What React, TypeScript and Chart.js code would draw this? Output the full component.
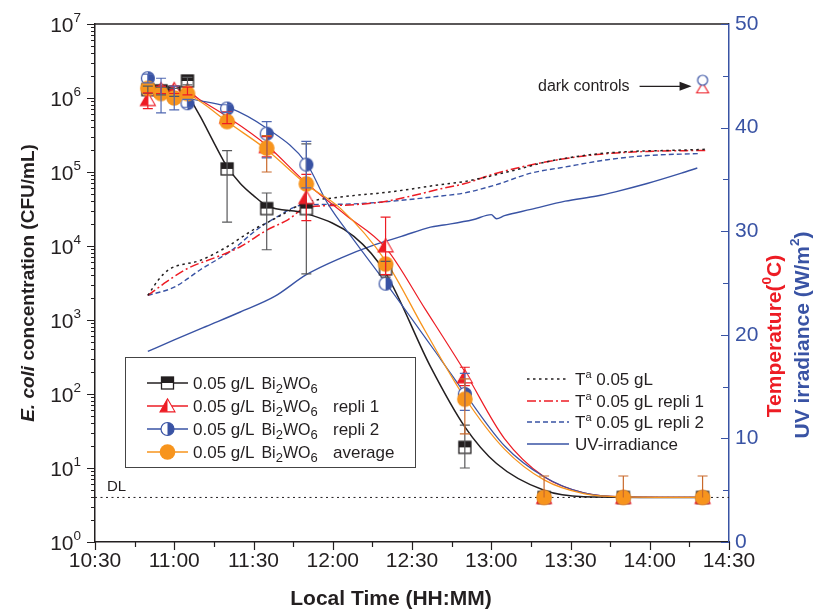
import React, { useEffect, useRef } from 'react';
import { Chart, registerables } from 'chart.js';

Chart.register(...registerables);

const FONT = '"Liberation Sans", Arial, Helvetica, sans-serif';
const BLACK = '#231F20';
const RED = '#ED1C24';
const BLUE = '#3953A4';
const ORANGE = '#F7941D';
const ORANGE_BAR = '#C9692B';
const GRAY_BAR = '#58595B';
const BLUE_BAR = '#5068B2';

// ---------- axes ----------
const xTickLabels = ['10:30', '11:00', '11:30', '12:00', '12:30', '13:00', '13:30', '14:00', '14:30'];
const xMinorStep = 15;
const logExponents = [0, 1, 2, 3, 4, 5, 6, 7];
const rightTicks = [0, 10, 20, 30, 40, 50];
const rightMinorStep = 5;
const xTitle = 'Local Time (HH:MM)';

// ---------- E. coli samples (CFU/mL) ----------
const sampleTimes = ['10:50', '10:55', '11:00', '11:05', '11:20', '11:35', '11:50', '12:20', '12:50', '13:20', '13:50', '14:20'];

const bwMean = [1.3e6, 1.25e6, 1.2e6, 1.7e6, 1.1e5, 3.2e4, 3.2e4, 4.9e3, 19, 4, 4, 4];
const bwLow = [1.15e6, 1.1e6, 1.05e6, 1.5e6, 2.1e4, 8.9e3, 4.2e3, 3.8e3, 10, 4, 4, 4];
const bwHigh = [1.45e6, 1.4e6, 1.35e6, 1.9e6, 1.95e5, 5.2e4, 2.4e5, 6.2e3, 38, 4, 4, 4];

const r1Mean = [9.5e5, 1.3e6, 1.3e6, 1.25e6, 5.5e5, 2.2e5, 4.5e4, 1.0e4, 170, 4, 4, 4];
const r1Low = [7.2e5, 1.15e6, 1.15e6, 1.1e6, 4.5e5, 1.6e5, 2.2e4, 4.1e3, 130, 4, 4, 4];
const r1High = [1.17e6, 1.45e6, 1.45e6, 1.4e6, 6.5e5, 3.0e5, 9.3e4, 2.45e4, 230, 4, 4, 4];

const r2Mean = [1.85e6, 1.2e6, 1.0e6, 8.5e5, 7.2e5, 3.3e5, 1.26e5, 3.1e3, 100, 4, 4, 4];
const r2Low = [1.6e6, 6.3e5, 6.9e5, 7.5e5, 6.4e5, 1.55e5, 6.1e4, 3.1e3, 60, 4, 4, 4];
const r2High = [2.1e6, 1.85e6, 1.45e6, 9.6e5, 8.1e5, 4.8e5, 2.6e5, 3.1e3, 190, 4, 4, 4];

const avgMean = [1.35e6, 1.15e6, 1.0e6, 1.15e6, 4.8e5, 2.1e5, 6.9e4, 5.7e3, 85, 4, 4, 4];
const avgLow = [1.35e6, 1.15e6, 1.0e6, 1.15e6, 4.8e5, 1.0e5, 6.9e4, 5.7e3, 29, 4, 4, 4];
const avgHigh = [1.35e6, 1.15e6, 1.0e6, 1.15e6, 4.8e5, 3.1e5, 6.9e4, 5.7e3, 160, 7.8, 7.8, 7.8];

// dark controls
const darkTime = '14:20';
const darkRepli2 = 1.74e6;
const darkRepli1 = 1.35e6;

// detection limit
const dlValue = 4;

// ---------- fitted curves (time, CFU/mL) ----------
const bwFit: [string, number][] = [
  ['10:50', 1.3e6], ['11:00', 1.28e6], ['11:05', 1.15e6], ['11:07', 8.5e5], ['11:10', 5.5e5],
  ['11:15', 2.5e5], ['11:20', 1.18e5], ['11:25', 7.0e4], ['11:30', 4.8e4], ['11:35', 3.5e4],
  ['11:50', 2.75e4], ['12:08', 1.35e4], ['12:20', 4.3e3], ['12:37', 234], ['12:50', 36],
  ['13:02', 11.5], ['13:20', 5.0], ['13:35', 4.1], ['14:20', 4.0],
];
const r1Fit: [string, number][] = [
  ['10:50', 1.2e6], ['11:05', 1.2e6], ['11:10', 9.3e5], ['11:20', 5.6e5], ['11:35', 2.3e5],
  ['11:50', 7.1e4], ['12:05', 2.6e4], ['12:20', 9.5e3], ['12:35', 1.4e3], ['12:50', 200],
  ['13:05', 25], ['13:20', 7.6], ['13:35', 4.6], ['13:50', 4.07], ['14:20', 4.0],
];
const avgFit: [string, number][] = [
  ['10:50', 1.35e6], ['11:00', 1.17e6], ['11:05', 1.12e6], ['11:10', 8.9e5], ['11:20', 4.8e5],
  ['11:35', 2.0e5], ['11:50', 6.8e4], ['12:03', 3.2e4], ['12:20', 6.3e3], ['12:35', 710],
  ['12:50', 89], ['13:05', 18], ['13:20', 6.9], ['13:35', 4.5], ['13:50', 4.07], ['14:20', 4.0],
];
const r2Fit: [string, number][] = [
  ['10:50', 1.58e6], ['11:05', 1.0e6], ['11:20', 7.6e5], ['11:35', 3.9e5], ['11:50', 1.32e5],
  ['11:58', 3.8e4], ['12:08', 1.2e4], ['12:20', 3.2e3], ['12:41', 290], ['12:50', 102],
  ['13:05', 20], ['13:20', 7.6], ['13:35', 4.6], ['13:50', 4.07], ['14:20', 4.0],
];

// ---------- temperature (°C) and UV (W/m2) ----------
const tempMain: [string, number][] = [
  ['10:50', 23.8], ['10:54', 25.3], ['10:58', 26.3], ['11:10', 27.2], ['11:20', 28.5], ['11:26', 29.5],
  ['11:31', 30.3], ['11:35', 30.8], ['11:43', 31.9], ['11:49', 32.7], ['12:03', 33.3], ['12:22', 33.8],
  ['12:41', 34.5], ['12:50', 34.8], ['13:09', 35.9], ['13:21', 36.7], ['13:38', 37.4], ['13:53', 37.7],
  ['14:08', 37.8], ['14:21', 37.9],
];
const tempRepli1: [string, number][] = [
  ['10:50', 23.8], ['10:57', 25.1], ['11:05', 26.4], ['11:16', 27.5], ['11:25', 28.5], ['11:35', 30.1],
  ['11:43', 31.1], ['11:50', 32.3], ['12:03', 32.5], ['12:18', 32.8], ['12:28', 33.3], ['12:41', 34.1],
  ['12:50', 34.6], ['13:02', 35.6], ['13:21', 36.7], ['13:40', 37.4], ['13:59', 37.7], ['14:21', 37.8],
];
const tempRepli2: [string, number][] = [
  ['10:50', 23.8], ['11:00', 24.6], ['11:10', 26.3], ['11:22', 28.2], ['11:31', 30.1], ['11:39', 31.4],
  ['11:48', 32.5], ['12:03', 32.6], ['12:18', 32.8], ['12:41', 33.4], ['12:50', 33.7], ['13:02', 34.5],
  ['13:15', 35.6], ['13:28', 36.2], ['13:44', 36.9], ['13:59', 37.3], ['14:19', 37.5],
];
const uvIrradiance: [string, number][] = [
  ['10:50', 18.4], ['11:00', 19.5], ['11:12', 20.8], ['11:25', 22.2], ['11:38', 23.7], ['11:50', 25.8],
  ['12:03', 27.4], ['12:16', 28.7], ['12:26', 29.5], ['12:37', 30.4], ['12:42', 30.6], ['12:53', 31.1],
  ['13:00', 31.6], ['13:02', 31.2], ['13:05', 31.5], ['13:15', 32.1], ['13:28', 32.9], ['13:40', 33.4],
  ['13:47', 33.8], ['13:59', 34.6], ['14:12', 35.6], ['14:18', 36.1],
];

// ---------- legend texts ----------
const leftLegendMain = ['0.05 g/L', '0.05 g/L', '0.05 g/L', '0.05 g/L'];
const leftLegendSuffix = ['', 'repli 1', 'repli 2', 'average'];
const rightLegendText = [' 0.05 gL', ' 0.05 gL repli 1', ' 0.05 gL repli 2', 'UV-irradiance'];

// ---------- helpers ----------
const toMin = (t: string) => {
  const [h, m] = t.split(':').map(Number);
  return h * 60 + m - (10 * 60 + 30);
};

type Seg = { t: string; size: number; weight?: string; style?: string; dy?: number; color?: string };
const segFont = (s: Seg) => `${s.style || 'normal'} ${s.weight || 'normal'} ${s.size}px ${FONT}`;
function richWidth(ctx: CanvasRenderingContext2D, segs: Seg[]) {
  let w = 0;
  for (const s of segs) { ctx.font = segFont(s); w += ctx.measureText(s.t).width; }
  return w;
}
function drawRich(ctx: CanvasRenderingContext2D, segs: Seg[], x: number, y: number, color: string) {
  ctx.textAlign = 'left';
  ctx.textBaseline = 'alphabetic';
  let cx = x;
  for (const s of segs) {
    ctx.font = segFont(s);
    ctx.fillStyle = s.color || color;
    ctx.fillText(s.t, cx, y + (s.dy || 0));
    cx += ctx.measureText(s.t).width;
  }
  return cx;
}

function drawMarker(ctx: CanvasRenderingContext2D, kind: string, cx: number, cy: number) {
  ctx.save();
  ctx.setLineDash([]);
  if (kind === 'square') {
    const s = 12, h = 6;
    ctx.fillStyle = '#fff'; ctx.fillRect(cx - h, cy - h, s, s);
    ctx.fillStyle = BLACK; ctx.fillRect(cx - h, cy - h, s, h);
    ctx.strokeStyle = BLACK; ctx.lineWidth = 1.3; ctx.strokeRect(cx - h, cy - h, s, s);
  } else if (kind === 'triangle' || kind === 'openTriangle') {
    const w = kind === 'triangle' ? 15 : 12;
    const ht = kind === 'triangle' ? 13 : 10;
    const top = cy - ht * 0.55, bot = cy + ht * 0.45;
    const path = () => { ctx.beginPath(); ctx.moveTo(cx, top); ctx.lineTo(cx + w / 2, bot); ctx.lineTo(cx - w / 2, bot); ctx.closePath(); };
    path(); ctx.fillStyle = '#fff'; ctx.fill();
    if (kind === 'triangle') {
      ctx.save(); ctx.beginPath(); ctx.rect(cx - w, top - 2, w, ht + 4); ctx.clip();
      path(); ctx.fillStyle = RED; ctx.fill(); ctx.restore();
    }
    path(); ctx.strokeStyle = RED; ctx.lineWidth = 1.1; ctx.stroke();
  } else if (kind === 'circleHalf' || kind === 'openCircle') {
    const r = kind === 'circleHalf' ? 6.5 : 5;
    ctx.beginPath(); ctx.arc(cx, cy, r, 0, Math.PI * 2); ctx.fillStyle = '#fff'; ctx.fill();
    if (kind === 'circleHalf') {
      ctx.beginPath(); ctx.arc(cx, cy, r, -Math.PI / 2, Math.PI / 2); ctx.closePath(); ctx.fillStyle = BLUE; ctx.fill();
    }
    ctx.beginPath(); ctx.arc(cx, cy, r, 0, Math.PI * 2); ctx.strokeStyle = BLUE; ctx.lineWidth = 1.2; ctx.stroke();
  } else if (kind === 'orange') {
    ctx.beginPath(); ctx.arc(cx, cy, 7.8, 0, Math.PI * 2); ctx.fillStyle = ORANGE; ctx.fill();
  }
  ctx.restore();
}

function makeMarker(kind: string): HTMLCanvasElement {
  const c = document.createElement('canvas');
  c.width = 20; c.height = 20;
  const ctx = c.getContext('2d')!;
  drawMarker(ctx, kind, 10, 10);
  return c;
}

const errorSeries = [
  { mean: bwMean, low: bwLow, high: bwHigh, color: GRAY_BAR },
  { mean: r1Mean, low: r1Low, high: r1High, color: RED },
  { mean: r2Mean, low: r2Low, high: r2High, color: BLUE_BAR },
  { mean: avgMean, low: avgLow, high: avgHigh, color: ORANGE_BAR },
];

const DASH_MAIN = [2.5, 3.5];
const DASH_R1 = [9, 3, 2, 3];
const DASH_R2 = [5, 3];

const chemSegs = (): Seg[] => [
  { t: 'Bi', size: 16 }, { t: '2', size: 13, dy: 4 }, { t: 'WO', size: 16 }, { t: '6', size: 13, dy: 4 },
];

const decorPlugin = {
  id: 'decor',
  beforeDatasetsDraw(chart: any) {
    const { ctx, chartArea: a, scales } = chart;
    const yDL = scales.y.getPixelForValue(dlValue);
    ctx.save();
    ctx.strokeStyle = BLACK; ctx.lineWidth = 1; ctx.setLineDash([2, 3.5]);
    ctx.beginPath(); ctx.moveTo(a.left, yDL); ctx.lineTo(a.right, yDL); ctx.stroke();
    ctx.setLineDash([]);
    drawRich(ctx, [{ t: 'DL', size: 15 }], a.left + 12, yDL - 6, BLACK);
    ctx.restore();
  },
  afterDatasetsDraw(chart: any) {
    const { ctx, scales } = chart;
    const x = scales.x, y = scales.y;
    ctx.save();
    // error bars
    for (const s of errorSeries) {
      ctx.strokeStyle = s.color; ctx.lineWidth = 1.2; ctx.setLineDash([]);
      sampleTimes.forEach((t, i) => {
        const v = s.mean[i], lo = s.low[i], hi = s.high[i];
        if (lo >= v && hi <= v) return;
        const px = x.getPixelForValue(toMin(t));
        const pl = y.getPixelForValue(lo), ph = y.getPixelForValue(hi);
        ctx.beginPath(); ctx.moveTo(px, pl); ctx.lineTo(px, ph);
        if (lo < v) { ctx.moveTo(px - 5, pl); ctx.lineTo(px + 5, pl); }
        if (hi > v) { ctx.moveTo(px - 5, ph); ctx.lineTo(px + 5, ph); }
        ctx.stroke();
      });
    }
    // dark controls annotation
    const dx = x.getPixelForValue(toMin(darkTime));
    const dy = (y.getPixelForValue(darkRepli2) + y.getPixelForValue(darkRepli1)) / 2 + 2;
    const tip = dx - 11;
    ctx.strokeStyle = BLACK; ctx.fillStyle = BLACK; ctx.lineWidth = 1.3;
    ctx.beginPath(); ctx.moveTo(tip - 52, dy); ctx.lineTo(tip - 8, dy); ctx.stroke();
    ctx.beginPath(); ctx.moveTo(tip, dy); ctx.lineTo(tip - 12, dy - 4.5); ctx.lineTo(tip - 12, dy + 4.5); ctx.closePath(); ctx.fill();
    ctx.font = `16px ${FONT}`; ctx.textAlign = 'right'; ctx.textBaseline = 'middle';
    ctx.fillText('dark controls', tip - 62, dy);

    // left legend
    const L = { x: 125, y: 357, w: 290, h: 110, rows: [383, 406, 429, 452], l0: 147, l1: 188, tx: 193, sx: 333 };
    ctx.fillStyle = '#fff'; ctx.fillRect(L.x, L.y, L.w, L.h);
    ctx.strokeStyle = '#444'; ctx.lineWidth = 1; ctx.strokeRect(L.x + 0.5, L.y + 0.5, L.w, L.h);
    const lStyles = [
      { c: BLACK, m: 'square' }, { c: RED, m: 'triangle' }, { c: BLUE, m: 'circleHalf' }, { c: ORANGE, m: 'orange' },
    ];
    L.rows.forEach((ry, i) => {
      ctx.strokeStyle = lStyles[i].c; ctx.lineWidth = 1.3;
      ctx.beginPath(); ctx.moveTo(L.l0, ry); ctx.lineTo(L.l1, ry); ctx.stroke();
      drawMarker(ctx, lStyles[i].m, (L.l0 + L.l1) / 2, ry);
      const end = drawRich(ctx, [{ t: leftLegendMain[i], size: 17 }], L.tx, ry + 6, BLACK);
      drawRich(ctx, chemSegs(), end + 7, ry + 6, BLACK);
      if (leftLegendSuffix[i]) drawRich(ctx, [{ t: leftLegendSuffix[i], size: 17 }], L.sx, ry + 6, BLACK);
    });

    // right legend
    const R = { rows: [379, 401, 422, 444], l0: 527, l1: 569, tx: 575 };
    const rStyles = [
      { c: BLACK, d: DASH_MAIN }, { c: RED, d: DASH_R1 }, { c: BLUE, d: DASH_R2 }, { c: BLUE, d: [] as number[] },
    ];
    R.rows.forEach((ry, i) => {
      ctx.strokeStyle = rStyles[i].c; ctx.lineWidth = 1.4; ctx.setLineDash(rStyles[i].d);
      ctx.beginPath(); ctx.moveTo(R.l0, ry); ctx.lineTo(R.l1, ry); ctx.stroke();
      ctx.setLineDash([]);
      const segs: Seg[] = i < 3
        ? [{ t: 'T', size: 17 }, { t: 'a', size: 11, dy: -7 }, { t: rightLegendText[i], size: 17 }]
        : [{ t: rightLegendText[i], size: 17 }];
      drawRich(ctx, segs, R.tx, ry + 6, BLACK);
    });
    ctx.restore();
  },
  afterDraw(chart: any) {
    const { ctx, chartArea: a, scales } = chart;
    const x = scales.x, y = scales.y, y2 = scales.y2;
    ctx.save();
    ctx.setLineDash([]);
    // top frame
    ctx.strokeStyle = BLACK; ctx.lineWidth = 1.5;
    ctx.beginPath(); ctx.moveTo(a.left, a.top); ctx.lineTo(a.right, a.top); ctx.stroke();
    // x ticks
    ctx.lineWidth = 1.2;
    const x0 = toMin(xTickLabels[0]), x1 = toMin(xTickLabels[xTickLabels.length - 1]);
    ctx.beginPath();
    for (let m = x0; m <= x1; m += xMinorStep) {
      const px = Math.round(x.getPixelForValue(m)) + 0.5;
      const len = (m - x0) % 30 === 0 ? 8 : 5;
      ctx.moveTo(px, a.bottom); ctx.lineTo(px, a.bottom + len);
    }
    ctx.stroke();
    // left log ticks
    ctx.beginPath();
    for (const e of logExponents) {
      for (let k = 1; k <= 9; k++) {
        if (e === logExponents[logExponents.length - 1] && k > 1) break;
        const py = Math.round(y.getPixelForValue(k * Math.pow(10, e))) + 0.5;
        const len = k === 1 ? 8 : 4;
        ctx.moveTo(a.left - len, py); ctx.lineTo(a.left, py);
      }
    }
    ctx.stroke();
    // left labels 10^n
    for (const e of logExponents) {
      const py = y.getPixelForValue(Math.pow(10, e));
      const segs: Seg[] = [{ t: '10', size: 21 }, { t: String(e), size: 13.5, dy: -9.5 }];
      const w = richWidth(ctx, segs);
      drawRich(ctx, segs, a.left - 14 - w, py + 7.5, BLACK);
    }
    // right ticks (inward)
    ctx.strokeStyle = BLUE; ctx.lineWidth = 1.2;
    ctx.beginPath();
    for (let v = rightTicks[0]; v <= rightTicks[rightTicks.length - 1]; v += rightMinorStep) {
      const py = Math.round(y2.getPixelForValue(v)) + 0.5;
      const len = v % 10 === 0 ? 8 : 6;
      ctx.moveTo(a.right - len, py); ctx.lineTo(a.right, py);
    }
    ctx.stroke();

    // x title
    const xt: Seg[] = [{ t: xTitle, size: 21, weight: 'bold' }];
    drawRich(ctx, xt, 391 - richWidth(ctx, xt) / 2, 605, BLACK);

    // left title
    ctx.save();
    ctx.translate(27, (a.top + a.bottom) / 2);
    ctx.rotate(-Math.PI / 2);
    const lt: Seg[] = [
      { t: 'E. coli', size: 19, weight: 'bold', style: 'italic' },
      { t: ' concentration (CFU/mL)', size: 19, weight: 'bold' },
    ];
    drawRich(ctx, lt, -richWidth(ctx, lt) / 2, 7, BLACK);
    ctx.restore();

    // right titles
    const tt: Seg[] = [
      { t: 'Temperature(', size: 21, weight: 'bold' },
      { t: '0', size: 13.5, weight: 'bold', dy: -9.5 },
      { t: 'C)', size: 21, weight: 'bold' },
    ];
    ctx.save();
    ctx.translate(773, 336);
    ctx.rotate(-Math.PI / 2);
    drawRich(ctx, tt, -richWidth(ctx, tt) / 2, 7.5, RED);
    ctx.restore();
    const ut: Seg[] = [
      { t: 'UV irradiance (W/m', size: 21, weight: 'bold' },
      { t: '2', size: 13.5, weight: 'bold', dy: -9.5 },
      { t: ')', size: 21, weight: 'bold' },
    ];
    ctx.save();
    ctx.translate(801, 335);
    ctx.rotate(-Math.PI / 2);
    drawRich(ctx, ut, -richWidth(ctx, ut) / 2, 7.5, BLUE);
    ctx.restore();

    ctx.restore();
  },
};

export default function App() {
  const ref = useRef<HTMLCanvasElement>(null);
  useEffect(() => {
    const canvas = ref.current;
    if (!canvas) return;
    Chart.defaults.font.family = FONT;
    const mk = {
      square: makeMarker('square'),
      triangle: makeMarker('triangle'),
      circleHalf: makeMarker('circleHalf'),
      orange: makeMarker('orange'),
      openCircle: makeMarker('openCircle'),
      openTriangle: makeMarker('openTriangle'),
    };
    const pts = (vals: number[]) => sampleTimes.map((t, i) => ({ x: toMin(t), y: vals[i] }));
    const pairs = (arr: [string, number][]) => arr.map(([t, v]) => ({ x: toMin(t), y: v }));
    const markerDs = (label: string, data: any[], style: HTMLCanvasElement, order: number) => ({
      type: 'line', label, data, showLine: false, pointStyle: style, pointRadius: 7, yAxisID: 'y', order,
    });
    const lineDs = (label: string, data: any[], color: string, width: number, dash: number[], yAxisID: string, order: number) => ({
      type: 'line', label, data, borderColor: color, borderWidth: width, borderDash: dash, pointRadius: 0,
      cubicInterpolationMode: 'monotone', yAxisID, order, fill: false,
    });

    const chart = new Chart(canvas, {
      type: 'line',
      data: {
        datasets: [
          markerDs('0.05 g/L Bi2WO6 average', pts(avgMean), mk.orange, 0),
          markerDs('0.05 g/L Bi2WO6 repli 2', pts(r2Mean), mk.circleHalf, 1),
          markerDs('0.05 g/L Bi2WO6 repli 1', pts(r1Mean), mk.triangle, 2),
          markerDs('0.05 g/L Bi2WO6', pts(bwMean), mk.square, 3),
          markerDs('dark control repli 2', [{ x: toMin(darkTime), y: darkRepli2 }], mk.openCircle, 4),
          markerDs('dark control repli 1', [{ x: toMin(darkTime), y: darkRepli1 }], mk.openTriangle, 5),
          lineDs('fit average', pairs(avgFit), ORANGE, 1.3, [], 'y', 6),
          lineDs('fit repli 2', pairs(r2Fit), BLUE, 1.2, [], 'y', 7),
          lineDs('fit repli 1', pairs(r1Fit), RED, 1.2, [], 'y', 8),
          lineDs('fit', pairs(bwFit), BLACK, 1.5, [], 'y', 9),
          lineDs('Tª 0.05 gL', pairs(tempMain), BLACK, 1.5, DASH_MAIN, 'y2', 10),
          lineDs('Tª 0.05 gL repli 1', pairs(tempRepli1), RED, 1.5, DASH_R1, 'y2', 11),
          lineDs('Tª 0.05 gL repli 2', pairs(tempRepli2), BLUE, 1.4, DASH_R2, 'y2', 12),
          lineDs('UV-irradiance', pairs(uvIrradiance), BLUE, 1.4, [], 'y2', 13),
        ] as any,
      },
      options: {
        responsive: false,
        animation: false,
        events: [],
        layout: { padding: { top: 24, left: 0, right: 0, bottom: 0 } },
        plugins: { legend: { display: false }, tooltip: { enabled: false } },
        scales: {
          x: {
            type: 'linear',
            position: 'bottom',
            min: toMin(xTickLabels[0]),
            max: toMin(xTickLabels[xTickLabels.length - 1]),
            afterBuildTicks: (s: any) => { s.ticks = xTickLabels.map((l) => ({ value: toMin(l) })); },
            afterFit: (s: any) => { s.height = 71; },
            ticks: {
              callback: (_v: any, i: number) => xTickLabels[i],
              font: { size: 21, family: FONT },
              color: BLACK,
              padding: 7,
              maxRotation: 0,
              autoSkip: false,
            },
            grid: { display: false, drawTicks: false },
            border: { display: true, color: BLACK, width: 1.5 },
          },
          y: {
            type: 'logarithmic',
            position: 'left',
            min: 1,
            max: 1e7,
            afterFit: (s: any) => { s.width = 95; },
            ticks: { display: false },
            grid: { display: false, drawTicks: false },
            border: { display: true, color: BLACK, width: 1.5 },
          },
          y2: {
            type: 'linear',
            position: 'right',
            min: rightTicks[0],
            max: rightTicks[rightTicks.length - 1],
            afterBuildTicks: (s: any) => { s.ticks = rightTicks.map((v) => ({ value: v })); },
            afterFit: (s: any) => { s.width = 90; },
            ticks: { color: BLUE, font: { size: 21, family: FONT }, padding: 6 },
            grid: { display: false, drawTicks: false },
            border: { display: true, color: BLUE, width: 1.5 },
          },
        },
      } as any,
      plugins: [decorPlugin],
    });
    return () => chart.destroy();
  }, []);

  return (
    <div style={{ position: 'absolute', left: 0, top: 0, width: 819, height: 613, background: '#fff' }}>
      <canvas ref={ref} width={819} height={613} style={{ display: 'block' }} />
    </div>
  );
}
